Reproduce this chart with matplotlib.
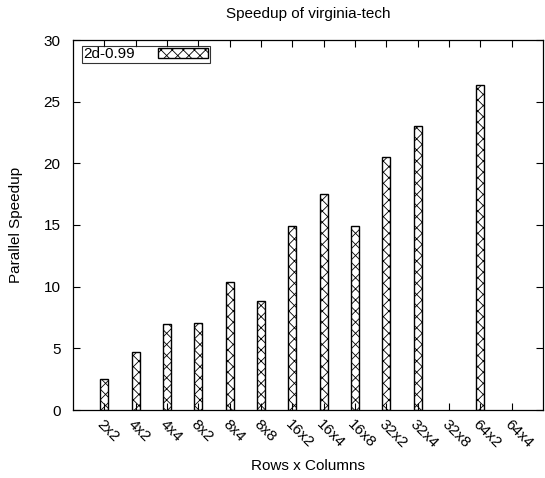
import numpy as np
import matplotlib
matplotlib.use("Agg")
import matplotlib.pyplot as plt

plt.rcParams['font.family'] = ['Liberation Sans', 'DejaVu Sans']
plt.rcParams['hatch.linewidth'] = 0.6

# data
configs = ["2x2", "4x2", "4x4", "8x2", "8x4", "8x8", "16x2", "16x4",
           "16x8", "32x2", "32x4", "32x8", "64x2", "64x4"]
speedup = [2.5, 4.7, 7.0, 7.05, 10.4, 8.85, 14.9, 17.5,
           14.9, 20.5, 23.0, np.nan, 26.35, np.nan]
series_name = "2d-0.99"

fs = 11
fig = plt.figure(figsize=(5.45, 4.78), dpi=100)
ax = fig.add_axes([73/545, 1 - 410/478, 470/545, 370/478])

x = np.arange(len(configs))
ax.bar(x, speedup, width=0.26, color="white", edgecolor="black",
       linewidth=1.0, hatch="xxx", label=series_name)

ax.set_xlim(-1, 14)
ax.set_ylim(0, 30)
ax.set_yticks(range(0, 31, 5))
ax.set_xticks(x)
ax.set_xticklabels(configs, rotation=-45, ha="left", va="top",
                   rotation_mode="anchor", fontsize=fs)
ax.tick_params(axis="both", direction="in", top=True, right=True,
               length=5, width=0.8, labelsize=fs)
ax.tick_params(axis="x", pad=5)
ax.tick_params(axis="y", pad=9)
for s in ax.spines.values():
    s.set_linewidth(0.9)

ax.set_title("Speedup of virginia-tech", fontsize=fs, pad=16)
ax.set_ylabel("Parallel Speedup", fontsize=fs, labelpad=15)
ax.set_xlabel("Rows x Columns", fontsize=fs, labelpad=6)

leg = ax.legend(loc="upper left", bbox_to_anchor=(0.019, 0.984),
                fontsize=fs, frameon=True, fancybox=False,
                markerfirst=False, handlelength=3.3, handleheight=0.6,
                borderpad=0.1, handletextpad=1.5, borderaxespad=0)
leg.get_frame().set_edgecolor("black")
leg.get_frame().set_linewidth(0.8)
leg._legend_box.align = "left"

fig.savefig("out.png", dpi=100)
